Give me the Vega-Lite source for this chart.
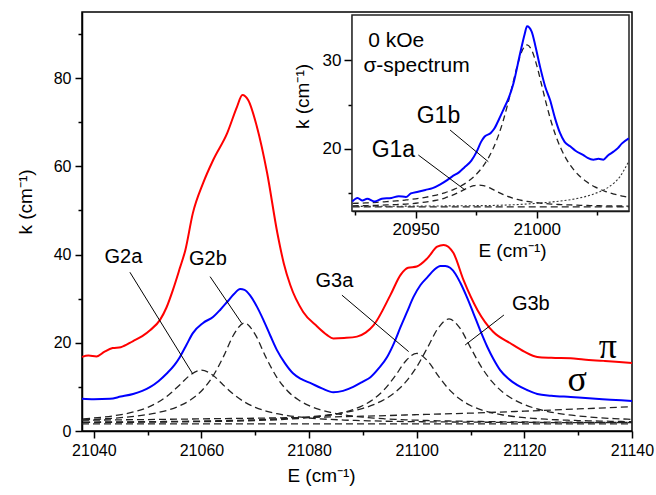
{
  "$schema": "https://vega.github.io/schema/vega-lite/v6.json",
  "width": 550,
  "height": 419,
  "autosize": "none",
  "padding": {"left": 82, "top": 12, "right": 24, "bottom": 64},
  "config": {
    "font": "Liberation Sans",
    "view": {"stroke": "#000", "strokeWidth": 1.5},
    "axis": {"domainColor": "#000", "domainWidth": 1.5, "tickColor": "#000", "tickWidth": 1.5, "labelColor": "#000", "titleColor": "#000", "labelFont": "Liberation Sans", "titleFont": "Liberation Sans", "titleFontWeight": "normal", "grid": false, "labelOverlap": false, "labelFlush": false, "labelBound": false, "zindex": 1}
  },
  "datasets": {
    "spec": [
      {"E": 21037.8, "k": 16.8, "s": "π"}, {"E": 21039, "k": 17.1, "s": "π"}, {"E": 21040.5, "k": 16.9, "s": "π"}, {"E": 21042, "k": 18.0, "s": "π"}, {"E": 21043.5, "k": 18.8, "s": "π"}, {"E": 21045, "k": 19.0, "s": "π"}, {"E": 21047.3, "k": 20.4, "s": "π"}, {"E": 21049, "k": 21.5, "s": "π"}, {"E": 21050.5, "k": 22.9, "s": "π"}, {"E": 21052.3, "k": 25.2, "s": "π"}, {"E": 21053.5, "k": 28, "s": "π"}, {"E": 21054.7, "k": 32, "s": "π"}, {"E": 21056, "k": 37, "s": "π"}, {"E": 21057, "k": 41, "s": "π"}, {"E": 21058.4, "k": 49.4, "s": "π"}, {"E": 21060.3, "k": 56.2, "s": "π"}, {"E": 21062.2, "k": 61.5, "s": "π"}, {"E": 21064.8, "k": 67.6, "s": "π"}, {"E": 21066.6, "k": 73.5, "s": "π"}, {"E": 21067.6, "k": 76.2, "s": "π"}, {"E": 21068.7, "k": 75, "s": "π"}, {"E": 21070.3, "k": 69, "s": "π"}, {"E": 21072.2, "k": 58.5, "s": "π"}, {"E": 21074.1, "k": 44.9, "s": "π"}, {"E": 21075.3, "k": 38, "s": "π"}, {"E": 21076.5, "k": 33.1, "s": "π"}, {"E": 21078.9, "k": 27, "s": "π"}, {"E": 21081.5, "k": 23.7, "s": "π"}, {"E": 21083.3, "k": 21.8, "s": "π"}, {"E": 21084.5, "k": 21.0, "s": "π"}, {"E": 21086.5, "k": 21.1, "s": "π"}, {"E": 21088.9, "k": 21.4, "s": "π"}, {"E": 21090.5, "k": 22.3, "s": "π"}, {"E": 21092, "k": 24, "s": "π"}, {"E": 21095.1, "k": 30.8, "s": "π"}, {"E": 21097, "k": 35.4, "s": "π"}, {"E": 21098.4, "k": 37, "s": "π"}, {"E": 21100, "k": 37.3, "s": "π"}, {"E": 21102, "k": 39.2, "s": "π"}, {"E": 21103.8, "k": 41.8, "s": "π"}, {"E": 21105, "k": 42.2, "s": "π"}, {"E": 21106.8, "k": 40.4, "s": "π"}, {"E": 21108.7, "k": 34.2, "s": "π"}, {"E": 21111.3, "k": 27.4, "s": "π"}, {"E": 21114.2, "k": 22.5, "s": "π"}, {"E": 21117.4, "k": 19.9, "s": "π"}, {"E": 21120, "k": 18.0, "s": "π"}, {"E": 21122.4, "k": 16.8, "s": "π"}, {"E": 21125, "k": 16.6, "s": "π"}, {"E": 21128.6, "k": 16.5, "s": "π"}, {"E": 21131, "k": 16.2, "s": "π"}, {"E": 21134.7, "k": 15.9, "s": "π"}, {"E": 21137, "k": 15.7, "s": "π"}, {"E": 21140, "k": 15.4, "s": "π"},
      {"E": 21037.8, "k": 7.3, "s": "σ"}, {"E": 21040, "k": 7.2, "s": "σ"}, {"E": 21043, "k": 7.3, "s": "σ"}, {"E": 21045, "k": 7.8, "s": "σ"}, {"E": 21047.3, "k": 8.4, "s": "σ"}, {"E": 21049, "k": 9.1, "s": "σ"}, {"E": 21050.5, "k": 10, "s": "σ"}, {"E": 21052, "k": 11.3, "s": "σ"}, {"E": 21053.6, "k": 13.1, "s": "σ"}, {"E": 21055, "k": 15, "s": "σ"}, {"E": 21056, "k": 16.8, "s": "σ"}, {"E": 21057.2, "k": 19.5, "s": "σ"}, {"E": 21058.4, "k": 22.2, "s": "σ"}, {"E": 21060.3, "k": 24.5, "s": "σ"}, {"E": 21062.2, "k": 25.9, "s": "σ"}, {"E": 21063.5, "k": 27.5, "s": "σ"}, {"E": 21064.8, "k": 29.3, "s": "σ"}, {"E": 21066, "k": 31, "s": "σ"}, {"E": 21067.2, "k": 32.2, "s": "σ"}, {"E": 21068, "k": 32.0, "s": "σ"}, {"E": 21069, "k": 30.8, "s": "σ"}, {"E": 21070.3, "k": 28.2, "s": "σ"}, {"E": 21071.5, "k": 25.2, "s": "σ"}, {"E": 21072.8, "k": 21.6, "s": "σ"}, {"E": 21074, "k": 18.4, "s": "σ"}, {"E": 21075.5, "k": 15.4, "s": "σ"}, {"E": 21077, "k": 13.1, "s": "σ"}, {"E": 21078.5, "k": 11.8, "s": "σ"}, {"E": 21080.2, "k": 10.9, "s": "σ"}, {"E": 21082.5, "k": 9.6, "s": "σ"}, {"E": 21084.5, "k": 8.8, "s": "σ"}, {"E": 21086.3, "k": 9.1, "s": "σ"}, {"E": 21088.2, "k": 10, "s": "σ"}, {"E": 21090, "k": 11.2, "s": "σ"}, {"E": 21091.4, "k": 12.2, "s": "σ"}, {"E": 21093, "k": 14.3, "s": "σ"}, {"E": 21094.5, "k": 16.8, "s": "σ"}, {"E": 21095.8, "k": 20, "s": "σ"}, {"E": 21097, "k": 23.6, "s": "σ"}, {"E": 21098.2, "k": 27.0, "s": "σ"}, {"E": 21099.4, "k": 30.4, "s": "σ"}, {"E": 21100.7, "k": 33.1, "s": "σ"}, {"E": 21102, "k": 34.9, "s": "σ"}, {"E": 21103.2, "k": 36.5, "s": "σ"}, {"E": 21104.4, "k": 37.4, "s": "σ"}, {"E": 21105.3, "k": 37.4, "s": "σ"}, {"E": 21106.2, "k": 37.0, "s": "σ"}, {"E": 21107.2, "k": 35.6, "s": "σ"}, {"E": 21108.1, "k": 33.6, "s": "σ"}, {"E": 21109.3, "k": 30.4, "s": "σ"}, {"E": 21110.5, "k": 26.8, "s": "σ"}, {"E": 21111.8, "k": 22.8, "s": "σ"}, {"E": 21113.1, "k": 19.1, "s": "σ"}, {"E": 21114.3, "k": 16.2, "s": "σ"}, {"E": 21115.5, "k": 13.8, "s": "σ"}, {"E": 21117, "k": 11.9, "s": "σ"}, {"E": 21118.7, "k": 10.4, "s": "σ"}, {"E": 21120.5, "k": 9.3, "s": "σ"}, {"E": 21122.4, "k": 8.4, "s": "σ"}, {"E": 21125, "k": 8.0, "s": "σ"}, {"E": 21128.6, "k": 7.7, "s": "σ"}, {"E": 21132, "k": 7.4, "s": "σ"}, {"E": 21136, "k": 7.1, "s": "σ"}, {"E": 21140, "k": 6.8, "s": "σ"}
    ],
    "comps": [
      {"E": 21038, "G2a": 2.76, "G2b": 2.54, "G3a": 1.94, "G3b": 2.01},
      {"E": 21040, "G2a": 2.95, "G2b": 2.64, "G3a": 1.95, "G3b": 2.03},
      {"E": 21042, "G2a": 3.18, "G2b": 2.77, "G3a": 1.96, "G3b": 2.04},
      {"E": 21044, "G2a": 3.50, "G2b": 2.93, "G3a": 1.97, "G3b": 2.06},
      {"E": 21046, "G2a": 3.93, "G2b": 3.14, "G3a": 1.98, "G3b": 2.07},
      {"E": 21048, "G2a": 4.52, "G2b": 3.40, "G3a": 1.99, "G3b": 2.09},
      {"E": 21050, "G2a": 5.36, "G2b": 3.74, "G3a": 2.01, "G3b": 2.11},
      {"E": 21052, "G2a": 6.57, "G2b": 4.20, "G3a": 2.03, "G3b": 2.14},
      {"E": 21054, "G2a": 8.28, "G2b": 4.83, "G3a": 2.05, "G3b": 2.16},
      {"E": 21056, "G2a": 10.50, "G2b": 5.74, "G3a": 2.07, "G3b": 2.19},
      {"E": 21058, "G2a": 12.76, "G2b": 7.07, "G3a": 2.10, "G3b": 2.23},
      {"E": 21060, "G2a": 13.8, "G2b": 9.08, "G3a": 2.12, "G3b": 2.26},
      {"E": 21062, "G2a": 12.76, "G2b": 12.17, "G3a": 2.16, "G3b": 2.30},
      {"E": 21064, "G2a": 10.50, "G2b": 16.65, "G3a": 2.20, "G3b": 2.35},
      {"E": 21066, "G2a": 8.28, "G2b": 21.85, "G3a": 2.25, "G3b": 2.41},
      {"E": 21068, "G2a": 6.57, "G2b": 24.5, "G3a": 2.30, "G3b": 2.47},
      {"E": 21070, "G2a": 5.36, "G2b": 21.85, "G3a": 2.37, "G3b": 2.54},
      {"E": 21072, "G2a": 4.52, "G2b": 16.65, "G3a": 2.45, "G3b": 2.63},
      {"E": 21074, "G2a": 3.93, "G2b": 12.17, "G3a": 2.55, "G3b": 2.74},
      {"E": 21076, "G2a": 3.50, "G2b": 9.08, "G3a": 2.67, "G3b": 2.86},
      {"E": 21078, "G2a": 3.18, "G2b": 7.07, "G3a": 2.83, "G3b": 3.00},
      {"E": 21080, "G2a": 2.95, "G2b": 5.74, "G3a": 3.02, "G3b": 3.19},
      {"E": 21082, "G2a": 2.76, "G2b": 4.83, "G3a": 3.29, "G3b": 3.42},
      {"E": 21084, "G2a": 2.62, "G2b": 4.20, "G3a": 3.63, "G3b": 3.69},
      {"E": 21086, "G2a": 2.51, "G2b": 3.74, "G3a": 4.11, "G3b": 4.05},
      {"E": 21088, "G2a": 2.41, "G2b": 3.40, "G3a": 4.79, "G3b": 4.52},
      {"E": 21090, "G2a": 2.34, "G2b": 3.14, "G3a": 5.78, "G3b": 5.14},
      {"E": 21092, "G2a": 2.28, "G2b": 2.93, "G3a": 7.25, "G3b": 5.98},
      {"E": 21094, "G2a": 2.22, "G2b": 2.77, "G3a": 9.43, "G3b": 7.15},
      {"E": 21096, "G2a": 2.18, "G2b": 2.64, "G3a": 12.5, "G3b": 8.8},
      {"E": 21098, "G2a": 2.14, "G2b": 2.54, "G3a": 15.92, "G3b": 11.18},
      {"E": 21100, "G2a": 2.11, "G2b": 2.45, "G3a": 17.6, "G3b": 14.54},
      {"E": 21102, "G2a": 2.08, "G2b": 2.38, "G3a": 15.92, "G3b": 18.91},
      {"E": 21104, "G2a": 2.06, "G2b": 2.31, "G3a": 12.5, "G3b": 23.36},
      {"E": 21106, "G2a": 2.05, "G2b": 2.27, "G3a": 9.43, "G3b": 25.4},
      {"E": 21108, "G2a": 2.03, "G2b": 2.22, "G3a": 7.25, "G3b": 23.36},
      {"E": 21110, "G2a": 2.00, "G2b": 2.18, "G3a": 5.78, "G3b": 18.91},
      {"E": 21112, "G2a": 1.99, "G2b": 2.15, "G3a": 4.79, "G3b": 14.54},
      {"E": 21114, "G2a": 1.98, "G2b": 2.12, "G3a": 4.11, "G3b": 11.18},
      {"E": 21116, "G2a": 1.97, "G2b": 2.09, "G3a": 3.63, "G3b": 8.8},
      {"E": 21118, "G2a": 1.96, "G2b": 2.07, "G3a": 3.29, "G3b": 7.15},
      {"E": 21120, "G2a": 1.94, "G2b": 2.05, "G3a": 3.02, "G3b": 5.98},
      {"E": 21122, "G2a": 1.93, "G2b": 2.03, "G3a": 2.83, "G3b": 5.14},
      {"E": 21124, "G2a": 1.92, "G2b": 2.02, "G3a": 2.67, "G3b": 4.52},
      {"E": 21126, "G2a": 1.91, "G2b": 2.01, "G3a": 2.55, "G3b": 4.05},
      {"E": 21128, "G2a": 1.90, "G2b": 1.99, "G3a": 2.45, "G3b": 3.69},
      {"E": 21130, "G2a": 1.90, "G2b": 1.98, "G3a": 2.37, "G3b": 3.42},
      {"E": 21132, "G2a": 1.89, "G2b": 1.97, "G3a": 2.30, "G3b": 3.19},
      {"E": 21134, "G2a": 1.89, "G2b": 1.96, "G3a": 2.25, "G3b": 3.00},
      {"E": 21136, "G2a": 1.88, "G2b": 1.95, "G3a": 2.20, "G3b": 2.86},
      {"E": 21138, "G2a": 1.88, "G2b": 1.94, "G3a": 2.16, "G3b": 2.74},
      {"E": 21140, "G2a": 1.88, "G2b": 1.93, "G3a": 2.12, "G3b": 2.63}
    ],
    "mbase": [
      {"E": 21037.8, "k": 1.6, "b": "flat"}, {"E": 21140, "k": 1.6, "b": "flat"},
      {"E": 21037.8, "k": 2.45, "b": "rise"}, {"E": 21050, "k": 2.6, "b": "rise"}, {"E": 21060, "k": 2.75, "b": "rise"}, {"E": 21070, "k": 2.9, "b": "rise"}, {"E": 21080, "k": 3.1, "b": "rise"}, {"E": 21090, "k": 3.35, "b": "rise"}, {"E": 21100, "k": 3.7, "b": "rise"}, {"E": 21110, "k": 4.05, "b": "rise"}, {"E": 21120, "k": 4.5, "b": "rise"}, {"E": 21130, "k": 5.0, "b": "rise"}, {"E": 21140, "k": 5.5, "b": "rise"}
    ],
    "mlead": [
      {"E": 21046.7, "k": 36.0, "E2": 21058.4, "k2": 12.9},
      {"E": 21061.6, "k": 35.0, "E2": 21067.5, "k2": 24.4},
      {"E": 21086.1, "k": 30.8, "E2": 21098.5, "k2": 18.0},
      {"E": 21116.2, "k": 26.3, "E2": 21109.0, "k2": 19.5}
    ],
    "mlab": [
      {"t": "G2a", "E": 21045.5, "k": 38.0},
      {"t": "G2b", "E": 21061.2, "k": 37.6},
      {"t": "G3a", "E": 21084.7, "k": 32.7},
      {"t": "G3b", "E": 21121.2, "k": 27.4}
    ],
    "mgreek": [
      {"t": "π", "E": 21135.5, "k": 16.5},
      {"t": "σ", "E": 21129.8, "k": 9.1}
    ],
    "iblue": [
      {"Ei": 20923.8, "ki": 14.1}, {"Ei": 20926, "ki": 14.5}, {"Ei": 20928, "ki": 14.2}, {"Ei": 20930, "ki": 14.4}, {"Ei": 20933, "ki": 14.1}, {"Ei": 20936, "ki": 14.4}, {"Ei": 20940, "ki": 14.5}, {"Ei": 20943, "ki": 14.7}, {"Ei": 20946, "ki": 14.6}, {"Ei": 20948, "ki": 15.0}, {"Ei": 20951, "ki": 15.2}, {"Ei": 20954, "ki": 15.4}, {"Ei": 20957, "ki": 15.6}, {"Ei": 20960, "ki": 16.0}, {"Ei": 20963, "ki": 16.5}, {"Ei": 20965, "ki": 16.9}, {"Ei": 20968, "ki": 17.4}, {"Ei": 20970, "ki": 17.9}, {"Ei": 20973, "ki": 18.7}, {"Ei": 20975.2, "ki": 19.7}, {"Ei": 20977, "ki": 20.8}, {"Ei": 20978.5, "ki": 21.4}, {"Ei": 20981, "ki": 21.8}, {"Ei": 20982.5, "ki": 22.3}, {"Ei": 20984.5, "ki": 23.4}, {"Ei": 20986.2, "ki": 24.4}, {"Ei": 20988.5, "ki": 25.8}, {"Ei": 20990.4, "ki": 27.4}, {"Ei": 20993.1, "ki": 30.7}, {"Ei": 20995, "ki": 32.9}, {"Ei": 20996, "ki": 33.8}, {"Ei": 20997.9, "ki": 33.2}, {"Ei": 20999.5, "ki": 31.5}, {"Ei": 21001.4, "ki": 29.2}, {"Ei": 21003.5, "ki": 27.0}, {"Ei": 21005.5, "ki": 25.5}, {"Ei": 21007.5, "ki": 23.5}, {"Ei": 21009.6, "ki": 21.8}, {"Ei": 21011.5, "ki": 20.8}, {"Ei": 21013.8, "ki": 20.3}, {"Ei": 21016, "ki": 19.8}, {"Ei": 21019.3, "ki": 19.3}, {"Ei": 21021, "ki": 19.0}, {"Ei": 21023.4, "ki": 18.8}, {"Ei": 21025.5, "ki": 18.9}, {"Ei": 21027.5, "ki": 18.8}, {"Ei": 21029.5, "ki": 19.3}, {"Ei": 21031.7, "ki": 19.7}, {"Ei": 21033.5, "ki": 20.1}, {"Ei": 21035.1, "ki": 20.6}, {"Ei": 21038, "ki": 21.2}
    ],
    "icomps": [
      {"Ei": 20924, "G1a": 13.61, "G1b": 13.88}, {"Ei": 20926, "G1a": 13.62, "G1b": 13.90}, {"Ei": 20928, "G1a": 13.63, "G1b": 13.92}, {"Ei": 20930, "G1a": 13.64, "G1b": 13.95}, {"Ei": 20932, "G1a": 13.66, "G1b": 13.98}, {"Ei": 20934, "G1a": 13.67, "G1b": 14.01}, {"Ei": 20936, "G1a": 13.69, "G1b": 14.04}, {"Ei": 20938, "G1a": 13.71, "G1b": 14.08}, {"Ei": 20940, "G1a": 13.73, "G1b": 14.12}, {"Ei": 20942, "G1a": 13.75, "G1b": 14.16}, {"Ei": 20944, "G1a": 13.78, "G1b": 14.21}, {"Ei": 20946, "G1a": 13.81, "G1b": 14.27}, {"Ei": 20948, "G1a": 13.85, "G1b": 14.33}, {"Ei": 20950, "G1a": 13.90, "G1b": 14.40}, {"Ei": 20952, "G1a": 13.96, "G1b": 14.48}, {"Ei": 20954, "G1a": 14.03, "G1b": 14.57}, {"Ei": 20956, "G1a": 14.11, "G1b": 14.67}, {"Ei": 20958, "G1a": 14.21, "G1b": 14.79}, {"Ei": 20960, "G1a": 14.33, "G1b": 14.93}, {"Ei": 20962, "G1a": 14.49, "G1b": 15.08}, {"Ei": 20964, "G1a": 14.67, "G1b": 15.27}, {"Ei": 20966, "G1a": 14.90, "G1b": 15.49}, {"Ei": 20968, "G1a": 15.15, "G1b": 15.74}, {"Ei": 20970, "G1a": 15.43, "G1b": 16.05}, {"Ei": 20972, "G1a": 15.69, "G1b": 16.43}, {"Ei": 20974, "G1a": 15.88, "G1b": 16.88}, {"Ei": 20976, "G1a": 15.95, "G1b": 17.44}, {"Ei": 20978, "G1a": 15.88, "G1b": 18.12}, {"Ei": 20980, "G1a": 15.69, "G1b": 18.98}, {"Ei": 20982, "G1a": 15.43, "G1b": 20.05}, {"Ei": 20984, "G1a": 15.15, "G1b": 21.39}, {"Ei": 20986, "G1a": 14.90, "G1b": 23.04}, {"Ei": 20988, "G1a": 14.67, "G1b": 25.02}, {"Ei": 20990, "G1a": 14.49, "G1b": 27.22}, {"Ei": 20992, "G1a": 14.33, "G1b": 29.39}, {"Ei": 20994, "G1a": 14.21, "G1b": 31.06}, {"Ei": 20996, "G1a": 14.11, "G1b": 31.70}, {"Ei": 20998, "G1a": 14.03, "G1b": 31.06}, {"Ei": 21000, "G1a": 13.96, "G1b": 29.39}, {"Ei": 21002, "G1a": 13.90, "G1b": 27.22}, {"Ei": 21004, "G1a": 13.85, "G1b": 25.02}, {"Ei": 21006, "G1a": 13.81, "G1b": 23.04}, {"Ei": 21008, "G1a": 13.78, "G1b": 21.39}, {"Ei": 21010, "G1a": 13.75, "G1b": 20.05}, {"Ei": 21012, "G1a": 13.73, "G1b": 18.98}, {"Ei": 21014, "G1a": 13.71, "G1b": 18.12}, {"Ei": 21016, "G1a": 13.69, "G1b": 17.44}, {"Ei": 21018, "G1a": 13.67, "G1b": 16.88}, {"Ei": 21020, "G1a": 13.66, "G1b": 16.43}, {"Ei": 21022, "G1a": 13.64, "G1b": 16.05}, {"Ei": 21024, "G1a": 13.63, "G1b": 15.74}, {"Ei": 21026, "G1a": 13.62, "G1b": 15.49}, {"Ei": 21028, "G1a": 13.61, "G1b": 15.27}, {"Ei": 21030, "G1a": 13.61, "G1b": 15.08}, {"Ei": 21032, "G1a": 13.60, "G1b": 14.93}, {"Ei": 21034, "G1a": 13.59, "G1b": 14.79}, {"Ei": 21036, "G1a": 13.59, "G1b": 14.67}, {"Ei": 21038, "G1a": 13.58, "G1b": 14.57}
    ],
    "iflat": [
      {"Ei": 20924, "ki": 13.5}, {"Ei": 21038, "ki": 13.5}
    ],
    "idot": [
      {"Ei": 20924, "ki": 13.55}, {"Ei": 20950, "ki": 13.58}, {"Ei": 20970, "ki": 13.62}, {"Ei": 20981, "ki": 13.65}, {"Ei": 20995, "ki": 13.8}, {"Ei": 21008, "ki": 14.1}, {"Ei": 21016, "ki": 14.4}, {"Ei": 21022, "ki": 14.8}, {"Ei": 21026, "ki": 15.2}, {"Ei": 21029, "ki": 15.6}, {"Ei": 21032, "ki": 16.2}, {"Ei": 21034.4, "ki": 16.9}, {"Ei": 21036, "ki": 17.6}, {"Ei": 21038, "ki": 18.6}
    ],
    "ilead": [
      {"Ei": 20964.2, "ki": 22.13, "Ei2": 20980.0, "ki2": 18.57},
      {"Ei": 20951.1, "ki": 19.32, "Ei2": 20970.4, "ki2": 15.39}
    ],
    "ilab": [
      {"t": "G1b", "Ei": 20959.4, "ki": 22.88},
      {"t": "G1a", "Ei": 20940.8, "ki": 19.13}
    ],
    "ihead": [
      {"t": "0 kOe", "Ei": 20930.4, "ki": 31.49},
      {"t": "σ-spectrum", "Ei": 20928.4, "ki": 28.68}
    ]
  },
  "layer": [
    {
      "layer": [
        {
          "data": {"name": "comps"},
          "transform": [{"fold": ["G2a", "G2b", "G3a", "G3b"], "as": ["comp", "k"]}],
          "mark": {"type": "line", "color": "#222", "strokeWidth": 1.3, "strokeDash": [7, 4], "interpolate": "monotone"},
          "encoding": {
            "x": {"field": "E", "type": "quantitative",
              "scale": {"domain": [21037.8, 21140], "nice": false, "zero": false},
              "axis": {"title": "E (cm⁻¹)", "orient": "bottom", "values": [21040, 21050, 21060, 21070, 21080, 21090, 21100, 21110, 21120, 21130, 21140], "format": "d", "labelExpr": "datum.value % 20 == 0 ? datum.label : ''", "tickSize": {"condition": {"test": "datum.value % 20 == 0", "value": 7}, "value": 4}, "labelFontSize": 16, "labelPadding": 4, "titleFontSize": 19, "titlePadding": 8, "titleX": 239}},
            "y": {"field": "k", "type": "quantitative",
              "scale": {"domain": [0, 95], "nice": false, "zero": false},
              "axis": {"title": "k (cm⁻¹)", "orient": "left", "values": [0, 10, 20, 30, 40, 50, 60, 70, 80, 90], "labelExpr": "datum.value % 20 == 0 ? datum.label : ''", "tickSize": {"condition": {"test": "datum.value % 20 == 0", "value": 7}, "value": 4}, "labelFontSize": 16, "labelPadding": 4, "titleFontSize": 19, "titlePadding": 18, "titleY": 189.5}},
            "detail": {"field": "comp", "type": "nominal"}
          }
        },
        {
          "data": {"name": "mbase"},
          "mark": {"type": "line", "color": "#222", "strokeWidth": 1.3, "strokeDash": [7, 4], "interpolate": "monotone"},
          "encoding": {
            "x": {"field": "E", "type": "quantitative"},
            "y": {"field": "k", "type": "quantitative"},
            "detail": {"field": "b", "type": "nominal"}
          }
        },
        {
          "data": {"name": "spec"},
          "mark": {"type": "line", "strokeWidth": 2, "interpolate": "monotone"},
          "encoding": {
            "x": {"field": "E", "type": "quantitative"},
            "y": {"field": "k", "type": "quantitative"},
            "color": {"field": "s", "type": "nominal", "scale": {"domain": ["π", "σ"], "range": ["#ff0000", "#0000ff"]}, "legend": null}
          }
        },
        {
          "data": {"name": "mlead"},
          "mark": {"type": "rule", "color": "#000", "strokeWidth": 1},
          "encoding": {
            "x": {"field": "E", "type": "quantitative"},
            "y": {"field": "k", "type": "quantitative"},
            "x2": {"field": "E2"},
            "y2": {"field": "k2"}
          }
        },
        {
          "data": {"name": "mlab"},
          "mark": {"type": "text", "fontSize": 20, "align": "center", "baseline": "alphabetic", "color": "#000", "font": "Liberation Sans"},
          "encoding": {
            "x": {"field": "E", "type": "quantitative"},
            "y": {"field": "k", "type": "quantitative"},
            "text": {"field": "t"}
          }
        },
        {
          "data": {"name": "mgreek"},
          "mark": {"type": "text", "fontSize": 36, "align": "center", "baseline": "alphabetic", "color": "#000", "font": "Liberation Serif"},
          "encoding": {
            "x": {"field": "E", "type": "quantitative"},
            "y": {"field": "k", "type": "quantitative"},
            "text": {"field": "t"}
          }
        }
      ]
    },
    {
      "layer": [
        {
          "data": {"values": [{}]},
          "mark": {"type": "rect", "fill": "#fff", "stroke": "#222", "strokeWidth": 1.5},
          "encoding": {
            "x": {"datum": 20923.7, "type": "quantitative",
              "scale": {"domain": [20923.7, 21038.1], "range": [270, 547], "nice": false, "zero": false},
              "axis": {"title": "E (cm⁻¹)", "orient": "bottom", "offset": -220, "values": [20925, 20950, 20975, 21000, 21025], "format": "d", "labelExpr": "datum.value % 50 == 0 ? datum.label : ''", "tickSize": {"condition": {"test": "datum.value % 50 == 0", "value": 7}, "value": 4}, "labelFontSize": 17, "labelPadding": 3, "titleFontSize": 19, "titlePadding": 4, "titleX": 430}},
            "x2": {"datum": 21038.1},
            "y": {"datum": 13.03, "type": "quantitative",
              "scale": {"domain": [13.03, 35.06], "range": [199, 3], "nice": false, "zero": false},
              "axis": {"title": "k (cm⁻¹)", "orient": "left", "offset": -270, "values": [15, 20, 25, 30], "labelExpr": "datum.value % 10 == 0 ? datum.label : ''", "tickSize": {"condition": {"test": "datum.value % 10 == 0", "value": 8}, "value": 4}, "labelFontSize": 17, "labelPadding": 3, "titleFontSize": 19, "titlePadding": 10, "titleY": 84}},
            "y2": {"datum": 35.06}
          }
        },
        {
          "data": {"name": "icomps"},
          "transform": [{"fold": ["G1a", "G1b"], "as": ["comp", "ki"]}],
          "mark": {"type": "line", "color": "#222", "strokeWidth": 1.3, "strokeDash": [6, 4], "interpolate": "monotone"},
          "encoding": {
            "x": {"field": "Ei", "type": "quantitative"},
            "y": {"field": "ki", "type": "quantitative"},
            "detail": {"field": "comp", "type": "nominal"}
          }
        },
        {
          "data": {"name": "iflat"},
          "mark": {"type": "line", "color": "#222", "strokeWidth": 1.3, "strokeDash": [7, 4]},
          "encoding": {
            "x": {"field": "Ei", "type": "quantitative"},
            "y": {"field": "ki", "type": "quantitative"}
          }
        },
        {
          "data": {"name": "idot"},
          "mark": {"type": "line", "color": "#333", "strokeWidth": 1.1, "strokeDash": [2, 2], "interpolate": "monotone"},
          "encoding": {
            "x": {"field": "Ei", "type": "quantitative"},
            "y": {"field": "ki", "type": "quantitative"}
          }
        },
        {
          "data": {"name": "iblue"},
          "mark": {"type": "line", "color": "#0000ff", "strokeWidth": 2, "interpolate": "monotone"},
          "encoding": {
            "x": {"field": "Ei", "type": "quantitative"},
            "y": {"field": "ki", "type": "quantitative"}
          }
        },
        {
          "data": {"name": "ilead"},
          "mark": {"type": "rule", "color": "#000", "strokeWidth": 1},
          "encoding": {
            "x": {"field": "Ei", "type": "quantitative"},
            "y": {"field": "ki", "type": "quantitative"},
            "x2": {"field": "Ei2"},
            "y2": {"field": "ki2"}
          }
        },
        {
          "data": {"name": "ilab"},
          "mark": {"type": "text", "fontSize": 23, "align": "center", "baseline": "alphabetic", "color": "#000", "font": "Liberation Sans"},
          "encoding": {
            "x": {"field": "Ei", "type": "quantitative"},
            "y": {"field": "ki", "type": "quantitative"},
            "text": {"field": "t"}
          }
        },
        {
          "data": {"name": "ihead"},
          "mark": {"type": "text", "fontSize": 21, "align": "left", "baseline": "alphabetic", "color": "#000", "font": "Liberation Sans"},
          "encoding": {
            "x": {"field": "Ei", "type": "quantitative"},
            "y": {"field": "ki", "type": "quantitative"},
            "text": {"field": "t"}
          }
        }
      ]
    }
  ],
  "resolve": {"scale": {"x": "independent", "y": "independent"}, "axis": {"x": "independent", "y": "independent"}}
}
